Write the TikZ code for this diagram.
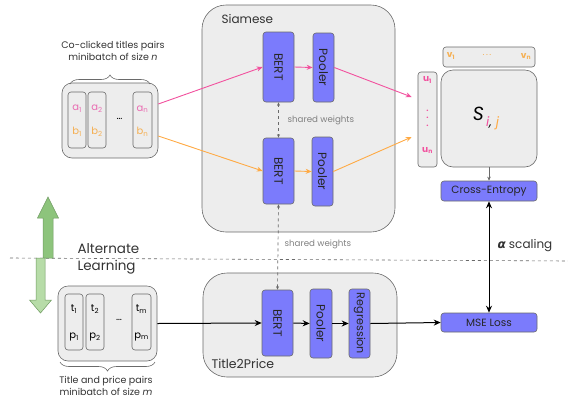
\documentclass[tikz,border=0pt]{standalone}
\usepackage{fontspec}
\setmainfont{Poppins}
\newfontfamily\dejavu{DejaVu Sans}
\usetikzlibrary{arrows.meta,decorations.pathreplacing,calc}
\definecolor{purp}{HTML}{7B7BFC}
\definecolor{boxgray}{HTML}{EDEDED}
\definecolor{edge}{HTML}{6A6A6A}
\definecolor{pinkc}{HTML}{F2519E}
\definecolor{orangec}{HTML}{FFAA44}
\definecolor{pinkt}{HTML}{E96DB2}
\definecolor{oranget}{HTML}{F5B054}
\definecolor{greendark}{HTML}{8DC47C}
\definecolor{greenlight}{HTML}{B7DCA8}
\definecolor{greenedge}{HTML}{6E9A60}
\definecolor{txt}{HTML}{333333}
\tikzset{
  purplebox/.style={draw=edge, fill=purp, rounded corners=3pt, inner sep=0pt, line width=0.6pt, font=\fontsize{12}{14}\selectfont, text=black!85},
  graybox/.style={draw=edge, fill=boxgray, inner sep=0pt, line width=0.6pt},
  bigbox/.style={graybox, rounded corners=24pt},
  cell/.style={graybox, rounded corners=3pt, minimum width=18, minimum height=56},
  pinkarrow/.style={draw=pinkc, line width=0.9pt, -{Stealth[length=6pt,width=5pt]}},
  orangearrow/.style={draw=orangec, line width=0.9pt, -{Stealth[length=6pt,width=5pt]}},
  blackarrow/.style={draw=black, line width=1pt, -{Stealth[length=7pt,width=6pt]}},
  sharedarrow/.style={draw=edge, dashed, line width=0.7pt, {Stealth[length=3.5pt,width=3pt]}-{Stealth[length=3.5pt,width=3pt]}},
  smalltxt/.style={font=\fontsize{8.7}{10}\selectfont, text=gray},
  captxt/.style={font=\fontsize{9.5}{12.5}\selectfont, text=txt, align=center},
  celltxt/.style={font=\fontsize{10}{11}\selectfont},
}
\begin{document}
\begin{tikzpicture}[x=1pt,y=-1pt]
\useasboundingbox (0,0) rectangle (568,400);

% dividing line
\coordinate (dl) at (10,258);
\coordinate (dr) at (568,261);
\draw[edge, dashed, line width=0.6pt] (dl) -- (dr);

% Siamese
\node[bigbox, minimum width=193, minimum height=227] (siam) at (298.5,118.5) {};
\node[anchor=west, font=\fontsize{12}{14}\selectfont, text=txt] (siamlbl) at (218,19) {Siamese};
\node[purplebox, minimum width=31, minimum height=70] (bert1) at (278.5,67) {\rotatebox{-90}{BERT}};
\node[purplebox, minimum width=21, minimum height=69] (pool1) at (323.5,67.5) {\rotatebox{-90}{Pooler}};
\node[purplebox, minimum width=31, minimum height=66] (bert2) at (278.5,171) {\rotatebox{-90}{BERT}};
\node[purplebox, minimum width=21, minimum height=69] (pool2) at (322.5,171.5) {\rotatebox{-90}{Pooler}};
\draw[sharedarrow] (bert1.south) -- (bert2.north);
\node[smalltxt, anchor=west] (sw1) at (284,120) {shared weights};

% Title2Price
\node[bigbox, minimum width=194, minimum height=104] (t2p) at (300,325) {};
\node[anchor=west, font=\fontsize{12.5}{14}\selectfont, text=txt] (t2plbl) at (208,364) {Title2Price};
\node[purplebox, minimum width=31, minimum height=66] (bert3) at (277.5,323) {\rotatebox{-90}{BERT}};
\node[purplebox, minimum width=22, minimum height=69] (pool3) at (321,323.5) {\rotatebox{-90}{Pooler}};
\node[purplebox, minimum width=21, minimum height=69, font=\fontsize{11.2}{12}\selectfont] (regr) at (359.5,323.5) {\rotatebox{-90}{Regression}};
\draw[sharedarrow] (bert2.south) -- (bert3.north);
\node[smalltxt, anchor=west] (sw2) at (281,244) {shared weights};

% batch 1
\node[graybox, rounded corners=10pt, minimum width=96, minimum height=75] (batch1) at (110,120.5) {};
\node[cell] (c1) at (77,120) {};
\node[cell] (c2) at (97,120) {};
\node[cell, minimum width=19] (cn) at (142.5,120) {};
\node[celltxt, text=pinkt] (a1) at (77,109) {a\textsubscript{1}};
\node[celltxt, text=oranget] (b1) at (77,132) {b\textsubscript{1}};
\node[celltxt, text=pinkt] (a2) at (97,109) {a\textsubscript{2}};
\node[celltxt, text=oranget] (b2) at (97,132) {b\textsubscript{2}};
\node[celltxt, text=pinkt] (an) at (142.5,109) {a\textsubscript{n}};
\node[celltxt, text=oranget] (bn) at (142.5,132) {b\textsubscript{n}};
\node[celltxt, text=black] (dots1) at (119.5,119) {\dots};
\coordinate (br1a) at (70,84);
\coordinate (br1b) at (150,84);
\draw[edge, line width=0.6pt, decoration={brace, amplitude=9pt}, decorate] (br1a) -- (br1b);
\node[captxt] (cap1) at (113,51) {Co-clicked titles pairs\\minibatch of size \textit{n}};

% batch 2
\node[graybox, rounded corners=10pt, minimum width=99, minimum height=75] (batch2) at (107.5,323.5) {};
\node[cell] (d1) at (74,322) {};
\node[cell] (d2) at (95,322) {};
\node[cell, minimum width=19] (dm) at (141.5,322) {};
\node[celltxt] (t1) at (74,309) {t\textsubscript{1}};
\node[celltxt] (p1) at (74,337) {p\textsubscript{1}};
\node[celltxt] (t2) at (95,309) {t\textsubscript{2}};
\node[celltxt] (p2) at (95,337) {p\textsubscript{2}};
\node[celltxt] (tm) at (141.5,309) {t\textsubscript{m}};
\node[celltxt] (pm) at (141.5,337) {p\textsubscript{m}};
\node[celltxt] (dots2) at (119,320) {\dots};
\coordinate (br2a) at (155,362);
\coordinate (br2b) at (60,362);
\draw[edge, line width=0.6pt, decoration={brace, amplitude=9pt}, decorate] (br2a) -- (br2b);
\node[captxt] (cap2) at (106,386) {Title and price pairs\\minibatch of size \textit{m}};

% right side
\node[graybox, rounded corners=12pt, minimum width=96, minimum height=97] (smat) at (489,118.5) {};
\node[graybox, rounded corners=3pt, minimum width=92, minimum height=20] (vbox) at (489,57) {};
\node[graybox, rounded corners=3pt, minimum width=19, minimum height=95] (ubox) at (427.5,119.5) {};
\node[font=\fontsize{9}{10}\selectfont\bfseries, text=oranget] (v1) at (451,56) {v\textsubscript{1}};
\node[font=\fontsize{9}{10}\selectfont, text=oranget] (vdots) at (487,55) {.\,.\,.};
\node[font=\fontsize{9}{10}\selectfont\bfseries, text=oranget] (vn) at (526,56) {v\textsubscript{n}};
\node[font=\fontsize{9}{10}\selectfont\bfseries, text=pinkc] (u1) at (427.5,80) {u\textsubscript{1}};
\node[font=\fontsize{8}{9}\selectfont\bfseries, text=pinkc] (ud) at (427.5,118) {\shortstack{.\\[3pt].\\[3pt].}};
\node[font=\fontsize{9}{10}\selectfont\bfseries, text=pinkc] (un) at (427.5,150) {u\textsubscript{n}};
\node[font=\fontsize{19}{20}\selectfont\itshape] (sij) at (486,118) {S\raisebox{-6pt}{\fontsize{13}{14}\selectfont\,\textcolor{pinkc}{i}, \textcolor{orangec}{j}}};
\node[purplebox, minimum width=96, minimum height=20, font=\fontsize{10.5}{11}\selectfont] (ce) at (489,191) {Cross-Entropy};
\node[purplebox, minimum width=96, minimum height=19, font=\fontsize{10.5}{11}\selectfont] (mse) at (489,322.5) {MSE Loss};
\draw[edge, line width=0.7pt, -{Stealth[length=4pt,width=3.5pt]}] (smat.south) -- (ce.north);
\draw[draw=black, line width=1pt, {Stealth[length=7pt,width=6pt]}-{Stealth[length=7pt,width=6pt]}] (ce.south) -- (mse.north);
\node[anchor=west, font=\fontsize{12}{13}\selectfont, text=txt] (alpha) at (494,246) {{\dejavu\bfseries\itshape α} scaling};

% connectors
\draw[pinkarrow] ([yshift=16.5pt]batch1.east) -- (bert1.west);
\draw[pinkarrow] (bert1.east) -- (pool1.west);
\draw[pinkarrow] (pool1.east) -- ([xshift=-6pt,yshift=22.5pt]ubox.west);
\draw[orangearrow] ([yshift=-15.5pt]batch1.east) -- (bert2.west);
\draw[orangearrow] (bert2.east) -- (pool2.west);
\draw[orangearrow] (pool2.east) -- ([xshift=-6pt,yshift=-17.5pt]ubox.west);
\draw[blackarrow] (batch2.east) -- (bert3.west);
\draw[blackarrow] (bert3.east) -- (pool3.west);
\draw[blackarrow] (pool3.east) -- (regr.west);
\draw[blackarrow] (regr.east) -- (mse.west);

% green arrows
\fill[greendark, draw=greenedge, line width=0.5pt] (43,258) -- (43,218) -- (37.5,218) -- (48,197) -- (58.5,218) -- (53,218) -- (53,258) -- cycle;
\fill[greenlight, draw=greenedge, line width=0.5pt] (36,258) -- (36,300) -- (29.5,300) -- (40.5,313) -- (51.5,300) -- (45,300) -- (45,258) -- cycle;
\node[anchor=west, font=\fontsize{13.5}{17}\selectfont, text=txt, align=left] (alt) at (74,258.5) {Alternate\\Learning};
\end{tikzpicture}
\end{document}
